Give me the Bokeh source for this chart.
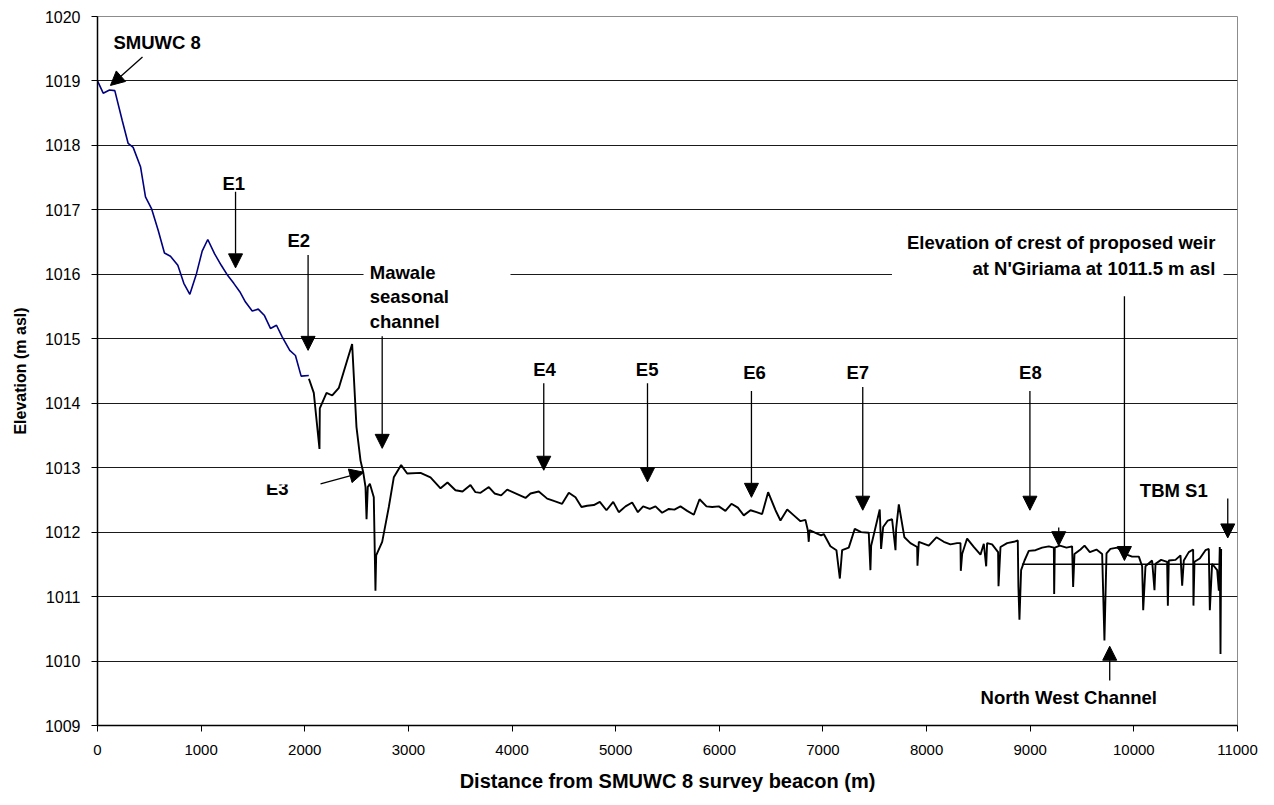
from bokeh.plotting import figure
from bokeh.models import Range1d, FixedTicker, Label, Arrow, NormalHead
from bokeh.core.properties import value
from bokeh.embed import file_html
from bokeh.resources import INLINE

# Long profile: upper reach from SMUWC 8 (navy series)
dist_upper = [0, 55, 116, 167, 238, 296, 344, 415, 463, 521, 586, 646, 704, 775, 833,
              891, 955, 1010, 1064, 1129, 1194, 1257, 1315, 1373, 1428, 1493, 1551,
              1611, 1669, 1727, 1782, 1855, 1910, 1965, 2039]
elev_upper = [1019.00, 1018.81, 1018.86, 1018.85, 1018.39, 1018.03, 1017.97, 1017.67,
              1017.20, 1017.02, 1016.68, 1016.33, 1016.28, 1016.14, 1015.86, 1015.69,
              1016.01, 1016.36, 1016.54, 1016.32, 1016.14, 1015.98, 1015.86, 1015.73,
              1015.57, 1015.43, 1015.46, 1015.36, 1015.16, 1015.21, 1015.03, 1014.82,
              1014.74, 1014.42, 1014.43]

# Long profile: lower reach down to TBM S1 (black series)
dist_lower = [2040, 2087, 2142, 2145, 2210, 2265, 2329, 2457, 2499, 2538, 2564, 2586,
              2596, 2608, 2628, 2666, 2682, 2689, 2747, 2811, 2859, 2930, 2988, 3117,
              3213, 3310, 3377, 3454, 3522, 3599, 3647, 3696, 3776, 3831, 3895, 3953,
              4130, 4178, 4258, 4339, 4410, 4483, 4548, 4612, 4670, 4725, 4789, 4847,
              4911, 4976, 5030, 5095, 5159, 5214, 5265, 5329, 5384, 5448, 5513, 5567,
              5625, 5690, 5754, 5809, 5876, 5931, 5995, 6059, 6117, 6179, 6236, 6301,
              6359, 6413, 6471, 6542, 6590, 6655, 6719, 6783, 6831, 6854, 6863, 6870,
              6928, 6982, 7008, 7072, 7130, 7163, 7185, 7249, 7307, 7368, 7442, 7458,
              7465, 7548, 7561, 7581, 7626, 7667, 7700, 7706, 7732, 7786, 7844, 7909,
              7912, 7925, 8021, 8095, 8166, 8230, 8295, 8327, 8330, 8343, 8391, 8455,
              8520, 8552, 8575, 8584, 8632, 8690, 8694, 8713, 8777, 8842, 8880, 8886,
              8896, 8912, 8945, 8986, 9051, 9115, 9179, 9228, 9231, 9237, 9286, 9350,
              9404, 9414, 9427, 9485, 9524, 9575, 9639, 9694, 9716, 9736, 9774, 9839,
              9919, 9983, 10048, 10080, 10090, 10112, 10176, 10199, 10209, 10263,
              10321, 10328, 10337, 10402, 10450, 10466, 10482, 10530, 10572, 10575,
              10585, 10636, 10691, 10723, 10733, 10755, 10804, 10820, 10829, 10836,
              10842]
elev_lower = [1014.38, 1014.16, 1013.29, 1013.92, 1014.16, 1014.12, 1014.24, 1014.92,
              1013.63, 1013.11, 1012.93, 1012.70, 1012.20, 1012.70, 1012.75, 1012.54,
              1011.09, 1011.64, 1011.85, 1012.39, 1012.85, 1013.04, 1012.91, 1012.92,
              1012.85, 1012.68, 1012.77, 1012.65, 1012.63, 1012.73, 1012.62, 1012.61,
              1012.70, 1012.60, 1012.57, 1012.66, 1012.53, 1012.60, 1012.63, 1012.52,
              1012.48, 1012.44, 1012.61, 1012.54, 1012.39, 1012.41, 1012.42, 1012.47,
              1012.34, 1012.47, 1012.31, 1012.40, 1012.46, 1012.31, 1012.40, 1012.36,
              1012.40, 1012.30, 1012.36, 1012.35, 1012.40, 1012.33, 1012.27, 1012.51,
              1012.40, 1012.39, 1012.40, 1012.33, 1012.44, 1012.38, 1012.26, 1012.34,
              1012.31, 1012.28, 1012.62, 1012.34, 1012.18, 1012.35, 1012.26, 1012.17,
              1012.19, 1012.03, 1011.85, 1012.03, 1011.99, 1011.95, 1011.97, 1011.78,
              1011.72, 1011.28, 1011.72, 1011.76, 1012.05, 1012.00, 1011.99, 1011.41,
              1011.79, 1012.35, 1011.74, 1012.08, 1012.18, 1012.20, 1011.72, 1012.05,
              1012.43, 1011.92, 1011.83, 1011.77, 1011.48, 1011.85, 1011.79, 1011.92,
              1011.85, 1011.81, 1011.83, 1011.83, 1011.40, 1011.66, 1011.90, 1011.77,
              1011.65, 1011.82, 1011.47, 1011.83, 1011.81, 1011.69, 1011.16, 1011.77,
              1011.83, 1011.85, 1011.87, 1011.15, 1010.64, 1011.41, 1011.56, 1011.71,
              1011.72, 1011.76, 1011.78, 1011.76, 1011.04, 1011.76, 1011.79, 1011.76,
              1011.78, 1011.15, 1011.66, 1011.73, 1011.79, 1011.69, 1011.73, 1011.66,
              1010.32, 1011.67, 1011.74, 1011.76, 1011.66, 1011.62, 1011.62, 1011.47,
              1010.79, 1011.47, 1011.56, 1011.10, 1011.51, 1011.57, 1011.54, 1010.86,
              1011.56, 1011.57, 1011.64, 1011.17, 1011.56, 1011.69, 1011.73, 1010.86,
              1011.54, 1011.59, 1011.72, 1011.74, 1010.79, 1011.51, 1011.41, 1011.09,
              1011.77, 1010.11, 1011.74]

# Proposed weir crest at N'Giriama
weir_dist = [8920, 10820]
weir_elev = [1011.5, 1011.5]

x_ticks = [0, 1000, 2000, 3000, 4000, 5000, 6000, 7000, 8000, 9000, 10000, 11000]
y_ticks = [1009, 1010, 1011, 1012, 1013, 1014, 1015, 1016, 1017, 1018, 1019, 1020]

# Callout texts: (text, x, y, align)
callouts = [
    ("SMUWC 8", 154, 1019.60, "left"),
    ("E1", 1315, 1017.41, "center"),
    ("E2", 1942, 1016.52, "center"),
    ("E4", 4313, 1014.52, "center"),
    ("E5", 5304, 1014.52, "center"),
    ("E6", 6339, 1014.47, "center"),
    ("E7", 7336, 1014.47, "center"),
    ("E8", 9002, 1014.47, "center"),
    ("TBM S1", 10385, 1012.65, "center"),
    ("North West Channel", 9372, 1009.44, "center"),
    ("Mawale", 2627, 1016.03, "left"),
    ("seasonal", 2627, 1015.65, "left"),
    ("channel", 2627, 1015.27, "left"),
    ("Elevation of crest of proposed weir", 10787, 1016.50, "right"),
    ("at N'Giriama at 1011.5 m asl", 10787, 1016.09, "right"),
]
e3_label = ("E3", 1734, 1012.68)

# Callout arrows: (x_start, y_start, x_tip, y_tip)
pointers = [
    (434, 1019.37, 125, 1018.93),
    (1332, 1017.28, 1332, 1016.10),
    (2032, 1016.30, 2032, 1014.82),
    (2152, 1012.75, 2569, 1012.93),
    (2747, 1015.04, 2747, 1013.30),
    (4306, 1014.31, 4306, 1012.96),
    (5307, 1014.31, 5307, 1012.78),
    (6310, 1014.19, 6310, 1012.54),
    (7384, 1014.25, 7384, 1012.34),
    (8997, 1014.19, 8997, 1012.34),
    (9275, 1012.07, 9275, 1011.79),
    (9909, 1015.66, 9909, 1011.56),
    (10906, 1012.52, 10906, 1011.91),
    (9767, 1009.70, 9767, 1010.23),
]

# White panels behind the multi-line callouts: (left, right, bottom, top)
panels = [
    (2567, 3985, 1015.08, 1016.26),
    (7666, 10865, 1015.81, 1016.75),
]
# Panel that trims the top of the E3 callout
e3_mask = (1590, 1880, 1012.74, 1012.94)

FONT = "Liberation Sans"

p = figure(width=1274, height=805, output_backend="svg", toolbar_location=None,
           x_range=Range1d(x_ticks[0], x_ticks[-1]), y_range=Range1d(y_ticks[0], y_ticks[-1]),
           min_border_left=97, min_border_right=37, min_border_top=16, min_border_bottom=80)
p.background_fill_color = "white"
p.border_fill_color = "white"
p.outline_line_color = "#8c8c8c"
p.outline_line_width = 1

p.xgrid.grid_line_color = None
p.ygrid.grid_line_color = "#1a1a1a"
p.ygrid.grid_line_width = 1

p.xaxis.ticker = FixedTicker(ticks=x_ticks)
p.yaxis.ticker = FixedTicker(ticks=y_ticks)
for ax in (p.xaxis[0], p.yaxis[0]):
    ax.axis_line_color = "black"
    ax.axis_line_width = 1.5
    ax.major_tick_line_color = "black"
    ax.major_tick_line_width = 1
    ax.major_tick_out = 6
    ax.major_tick_in = 0
    ax.minor_tick_line_color = None
    ax.major_label_text_font = FONT
    ax.major_label_text_color = "black"
    ax.axis_label_text_font = FONT
    ax.axis_label_text_font_style = "bold"
    ax.axis_label_text_color = "black"

p.xaxis.major_label_text_font_size = "15px"
p.yaxis.major_label_text_font_size = "16px"
p.xaxis.major_label_standoff = 13
p.yaxis.major_label_standoff = 11
p.xaxis.axis_label = "Distance from SMUWC 8 survey beacon (m)"
p.yaxis.axis_label = "Elevation (m asl)"
p.xaxis.axis_label_text_font_size = "20px"
p.yaxis.axis_label_text_font_size = "16px"
p.xaxis.axis_label_standoff = 12
p.yaxis.axis_label_standoff = 13

# white panels behind callouts
p.quad(left=[b[0] for b in panels], right=[b[1] for b in panels],
       bottom=[b[2] for b in panels], top=[b[3] for b in panels],
       fill_color="white", line_color=None)

# profile lines
p.line(dist_upper, elev_upper, line_color="#000080", line_width=1.6)
p.line(dist_lower, elev_lower, line_color="black", line_width=1.9)
p.line(weir_dist, weir_elev, line_color="black", line_width=1.5)

# E3 callout, trimmed at the top
p.text(x=[e3_label[1]], y=[e3_label[2]], text=[e3_label[0]],
       text_font=value(FONT), text_font_style="bold", text_font_size="18.5px",
       text_align="center", text_baseline="middle", text_color="black")
p.quad(left=[e3_mask[0]], right=[e3_mask[1]], bottom=[e3_mask[2]], top=[e3_mask[3]],
       fill_color="white", line_color=None)

for txt, x, y, align in callouts:
    p.add_layout(Label(x=x, y=y, text=txt, text_font=FONT, text_font_style="bold",
                       text_font_size="18.5px", text_align=align,
                       text_baseline="middle", text_color="black"))

for x0, y0, x1, y1 in pointers:
    p.add_layout(Arrow(x_start=x0, y_start=y0, x_end=x1, y_end=y1,
                       line_color="black", line_width=1.3,
                       end=NormalHead(size=14, fill_color="black",
                                      line_color="black", line_width=1)))

open("out.html", "w").write(file_html(p, INLINE))
